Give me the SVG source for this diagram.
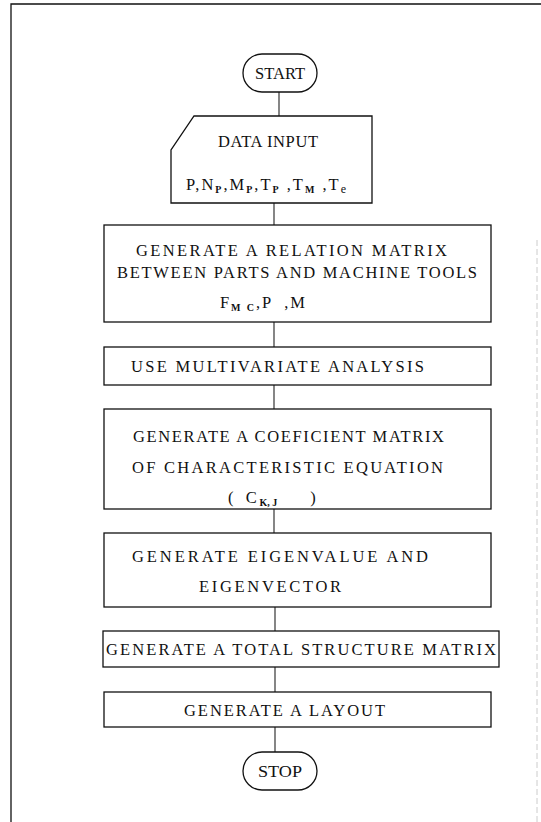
<svg xmlns="http://www.w3.org/2000/svg" width="541" height="822" viewBox="0 0 541 822">
<style>
.s{fill:none;stroke:#111;stroke-width:1.3}
.c{fill:none;stroke:#222;stroke-width:1.1}
text{font-family:"Liberation Serif","DejaVu Serif",serif;font-size:16.5px;fill:#111}
.sub{font-size:10px;font-weight:bold}
</style>
<rect width="541" height="822" fill="#fff"/>
<g id="frame">
<path class="s" d="M11,822 V4 H541"/>
<line x1="537" y1="240" x2="537" y2="822" stroke="#ccc" stroke-width="1" stroke-dasharray="6 3"/>
</g>
<g id="connectors">
<line class="c" x1="279" y1="92" x2="279" y2="116"/>
<line class="c" x1="274" y1="203" x2="274" y2="225"/>
<line class="c" x1="274" y1="322" x2="274" y2="347"/>
<line class="c" x1="274" y1="385" x2="274" y2="409"/>
<line class="c" x1="274" y1="509" x2="274" y2="533"/>
<line class="c" x1="275" y1="607" x2="275" y2="631"/>
<line class="c" x1="275" y1="667" x2="275" y2="692"/>
<line class="c" x1="275" y1="727" x2="275" y2="752"/>
</g>
<g id="start">
<rect class="s" x="243" y="54" width="74" height="38" rx="19"/>
<text x="280" y="79" text-anchor="middle" textLength="50" lengthAdjust="spacingAndGlyphs">START</text>
</g>
<g id="data-input">
<path class="s" d="M194,116 H372 V203 H171 V150 Z"/>
<text x="268" y="147" text-anchor="middle" textLength="100" lengthAdjust="spacing">DATA INPUT</text>
<text x="186" y="190" font-size="17" textLength="160" lengthAdjust="spacing">P,N<tspan class="sub" dy="3">P</tspan><tspan dy="-3">,M</tspan><tspan class="sub" dy="3">P</tspan><tspan dy="-3">,T</tspan><tspan class="sub" dy="3">P</tspan><tspan dy="-3"> ,T</tspan><tspan class="sub" dy="3">M</tspan><tspan dy="-3"> ,T</tspan><tspan dy="3" font-size="12">e</tspan></text>
</g>
<g id="relation-matrix">
<rect class="s" x="104" y="225" width="387" height="97"/>
<text x="136" y="256" textLength="311" lengthAdjust="spacing">GENERATE A RELATION MATRIX</text>
<text x="117" y="278" textLength="360" lengthAdjust="spacing">BETWEEN PARTS AND MACHINE TOOLS</text>
<text x="220" y="308" textLength="85" lengthAdjust="spacing" xml:space="preserve">F<tspan class="sub" dy="3">M C</tspan><tspan dy="-3">,P  ,M</tspan></text>
</g>
<g id="multivariate">
<rect class="s" x="104" y="347" width="387" height="38"/>
<text x="131" y="372" textLength="293" lengthAdjust="spacing">USE MULTIVARIATE ANALYSIS</text>
</g>
<g id="coefficient-matrix">
<rect class="s" x="104" y="409" width="387" height="100"/>
<text x="133" y="442" textLength="311" lengthAdjust="spacing">GENERATE A COEFICIENT MATRIX</text>
<text x="132" y="473" textLength="311" lengthAdjust="spacing">OF CHARACTERISTIC EQUATION</text>
<text x="228" y="503" xml:space="preserve">(   C<tspan class="sub" dy="3" font-weight="normal"> K, J</tspan><tspan dy="-3">        )</tspan></text>
</g>
<g id="eigen">
<rect class="s" x="104" y="533" width="387" height="74"/>
<text x="132" y="562" textLength="296" lengthAdjust="spacing">GENERATE EIGENVALUE AND</text>
<text x="199" y="592" textLength="142" lengthAdjust="spacing">EIGENVECTOR</text>
</g>
<g id="total-structure">
<rect class="s" x="103" y="631" width="396" height="36"/>
<text x="106" y="655" textLength="390" lengthAdjust="spacing">GENERATE A TOTAL STRUCTURE MATRIX</text>
</g>
<g id="layout">
<rect class="s" x="104" y="692" width="387" height="35"/>
<text x="184" y="716" textLength="201" lengthAdjust="spacing">GENERATE A LAYOUT</text>
</g>
<g id="stop">
<rect class="s" x="243" y="752" width="74" height="38" rx="19"/>
<text x="280" y="777" text-anchor="middle" textLength="44" lengthAdjust="spacingAndGlyphs">STOP</text>
</g>
</svg>
